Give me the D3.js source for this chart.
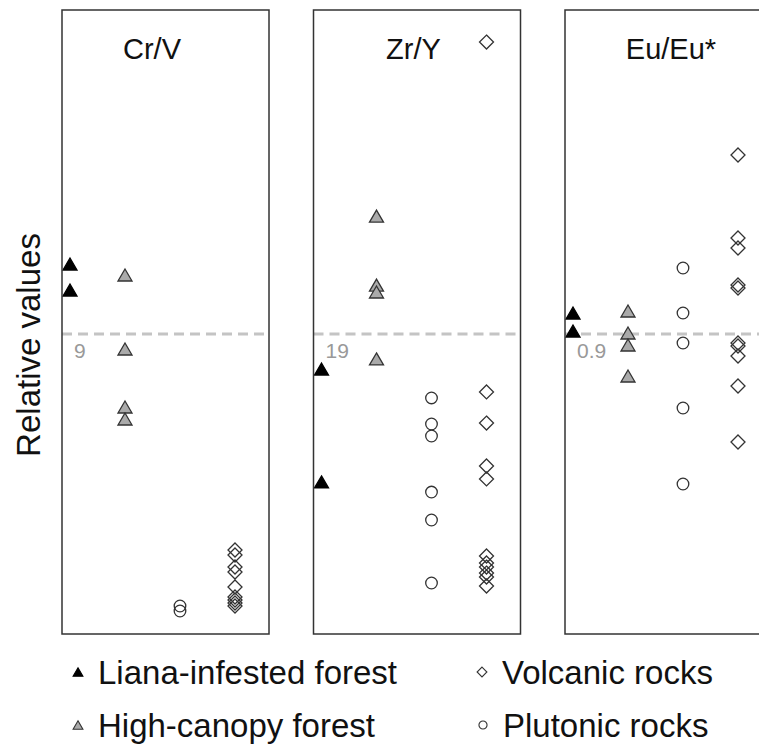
<!DOCTYPE html>
<html>
<head>
<meta charset="utf-8">
<script src="https://cdn.jsdelivr.net/npm/d3@7"></script>
<style>
  html, body { margin: 0; padding: 0; background: #fff; }
  svg { display: block; font-family: "Liberation Sans", Arial, sans-serif; }
</style>
</head>
<body>
<svg id="chart" width="759" height="745"></svg>
<script>
// ---- data ----
const panels = ["Cr/V", "Zr/Y", "Eu/Eu*"];
const referenceValues = [9, 19, 0.9];
const referenceLabels = ["9", "19", "0.9"];
const groups = ["Liana-infested forest", "High-canopy forest", "Plutonic rocks", "Volcanic rocks"];

const lianaValues = [
  [11.1, 10.32],
  [16.78, 9.63],
  [0.963, 0.909]
];
const highCanopyValues = [
  [10.77, 8.55, 6.81, 6.45],
  [26.47, 22.10, 21.66, 17.42],
  [0.969, 0.903, 0.867, 0.774]
];
const plutonicValues = [
  [0.84, 0.69],
  [14.95, 13.30, 12.54, 8.99, 7.22, 3.23],
  [1.098, 0.963, 0.873, 0.678, 0.45]
];
const volcanicValues = [
  [2.52, 2.37, 2.01, 1.86, 1.41, 1.11, 1.02, 0.93, 0.84],
  [37.49, 15.33, 13.36, 10.64, 9.82, 4.94, 4.50, 4.24, 3.86, 3.61, 3.04],
  [1.437, 1.188, 1.158, 1.047, 1.038, 0.873, 0.864, 0.834, 0.744, 0.576]
];

// ---- layout ----
const layout = {
  panelLeft0: 62, panelStep: 251.5, panelWidth: 207,
  top: 10, bottom: 634, refY: 334,
  titleDx: [90, 100, 106], titleY: 59
};

const svg = d3.select("#chart");
const seriesByGroup = [lianaValues, highCanopyValues, plutonicValues, volcanicValues];
const styles = {
  "Liana-infested forest": { shape: "triangle", fill: "#000", stroke: "#000" },
  "High-canopy forest": { shape: "triangle", fill: "#aaaaaa", stroke: "#333" },
  "Plutonic rocks": { shape: "circle", fill: "none", stroke: "#333" },
  "Volcanic rocks": { shape: "diamond", fill: "none", stroke: "#333" }
};

function shapePath(shape, s) {
  // s = scale factor
  if (shape === "triangle") {
    const w = 14 * s, h = 12 * s;
    return `M0,${-h/2}L${w/2},${h/2}L${-w/2},${h/2}Z`;
  }
  if (shape === "diamond") {
    const r = 7 * s;
    return `M0,${-r}L${r},0L0,${r}L${-r},0Z`;
  }
  const r = 5.8 * s;
  return `M${r},0A${r},${r} 0 1,1 ${-r},0A${r},${r} 0 1,1 ${r},0Z`;
}

const x = d3.scalePoint().domain(groups).range([8, 173]);

panels.forEach((name, pi) => {
  const left = layout.panelLeft0 + pi * layout.panelStep;
  const ref = referenceValues[pi];
  const y = d3.scaleLinear()
    .domain([0, ref * (layout.bottom - layout.top) / (layout.bottom - layout.refY)])
    .range([layout.bottom, layout.top]);
  const g = svg.append("g").attr("transform", `translate(${left},0)`);

  // reference line
  g.append("line")
    .attr("x1", 0).attr("x2", layout.panelWidth)
    .attr("y1", y(ref)).attr("y2", y(ref))
    .attr("stroke", "#c4c4c4").attr("stroke-width", 3)
    .attr("stroke-dasharray", "10,6");

  g.append("text")
    .attr("x", 12).attr("y", y(ref) + 24)
    .attr("fill", "#999").attr("font-size", 21)
    .text(referenceLabels[pi]);

  // panel title
  g.append("text")
    .attr("x", layout.titleDx[pi]).attr("y", layout.titleY)
    .attr("text-anchor", "middle").attr("font-size", 29).attr("fill", "#111")
    .text(name);

  // points
  groups.forEach((grp, gi) => {
    const st = styles[grp];
    const vals = seriesByGroup[gi][pi];
    g.selectAll(null).data(vals).enter().append("path")
      .attr("d", shapePath(st.shape, 1))
      .attr("transform", d => `translate(${x(grp)},${y(d)})`)
      .attr("fill", st.fill).attr("stroke", st.stroke).attr("stroke-width", 1.3);
  });

  // panel border
  g.append("rect")
    .attr("x", 0).attr("y", layout.top)
    .attr("width", layout.panelWidth).attr("height", layout.bottom - layout.top)
    .attr("fill", "none").attr("stroke", "#333").attr("stroke-width", 1.5);
});

// y-axis label
svg.append("text")
  .attr("transform", "translate(40,345) rotate(-90)")
  .attr("text-anchor", "middle").attr("font-size", 33).attr("fill", "#111")
  .text("Relative values");

// legend
const legendItems = [
  { grp: "Liana-infested forest", x: 78, y: 672 },
  { grp: "Volcanic rocks", x: 482, y: 672 },
  { grp: "High-canopy forest", x: 78, y: 725 },
  { grp: "Plutonic rocks", x: 483, y: 725 }
];
legendItems.forEach(it => {
  const st = styles[it.grp];
  svg.append("path")
    .attr("d", shapePath(st.shape, 0.7))
    .attr("transform", `translate(${it.x},${it.y})`)
    .attr("fill", st.fill).attr("stroke", st.stroke).attr("stroke-width", 1.1);
  svg.append("text")
    .attr("x", it.x + 20).attr("y", it.y + 12)
    .attr("font-size", 33).attr("fill", "#111")
    .text(it.grp);
});
</script>
</body>
</html>
